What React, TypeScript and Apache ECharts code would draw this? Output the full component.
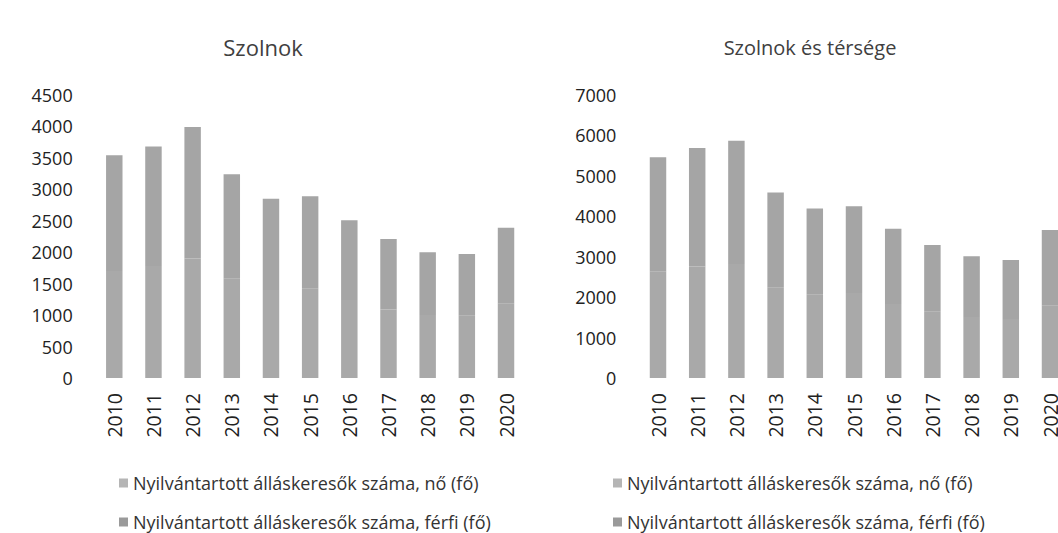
import React, { useEffect, useRef } from "react";
import * as echarts from "echarts";

const years = ["2010", "2011", "2012", "2013", "2014", "2015", "2016", "2017", "2018", "2019", "2020"];
const seriesNames = [
  "Nyilvántartott álláskeresők száma, nő (fő)",
  "Nyilvántartott álláskeresők száma, férfi (fő)",
];
const szolnokNo = [1700, 1780, 1900, 1580, 1400, 1420, 1240, 1090, 1000, 990, 1180];
const szolnokFerfi = [1840, 1900, 2090, 1660, 1450, 1470, 1270, 1120, 1000, 980, 1210];
const tersegNo = [2640, 2760, 2820, 2230, 2060, 2100, 1830, 1640, 1510, 1460, 1790];
const tersegFerfi = [2820, 2930, 3050, 2360, 2130, 2150, 1860, 1650, 1500, 1460, 1870];
const titles = ["Szolnok", "Szolnok és térsége"];

const FONT = "'Open Sans', 'Liberation Sans', sans-serif";
const colorNo = "#a9a9a9";
const colorFerfi = "#a5a5a5";

export default function App() {
  const ref = useRef<HTMLDivElement>(null);
  useEffect(() => {
    if (!ref.current) return;
    const chart = echarts.init(ref.current, undefined, { renderer: "svg" });
    const W = 1090;
    const axisLabel = { color: "#222", fontSize: 18, fontFamily: FONT };
    const xAxisBase = {
      type: "category",
      data: years,
      axisLine: { show: false },
      axisTick: { show: false },
      axisLabel: { ...axisLabel, fontSize: 19.5, rotate: 90, margin: 15 },
    };
    const yAxisBase = {
      type: "value",
      min: 0,
      axisLine: { show: false },
      axisTick: { show: false },
      splitLine: { show: false },
      axisLabel: { ...axisLabel, margin: 22, formatter: (v: number) => String(v) },
    };
    const bar = (name: string, data: number[], idx: number, color: string) => ({
      name,
      type: "bar",
      stack: "s" + idx,
      xAxisIndex: idx,
      yAxisIndex: idx,
      data,
      barWidth: "42%",
      itemStyle: { color },
    });
    const legendItem = (left: number, top: number, i: number) => ({
      left,
      top,
      itemWidth: 9,
      itemHeight: 9,
      itemGap: 6,
      icon: "rect",
      selectedMode: false,
      textStyle: { color: "#333", fontSize: 18, fontFamily: FONT },
      data: [{ name: seriesNames[i], itemStyle: { color: i === 0 ? "#b5b5b5" : "#9a9a9a" } }],
    });
    chart.setOption({
      animation: false,
      backgroundColor: "#fff",
      grid: [
        { left: 94.7, right: W - 525.6, top: 95, bottom: 533 - 378 },
        { left: 638.4, right: W - 1069.6, top: 95, bottom: 533 - 378 },
      ],
      xAxis: [
        { ...xAxisBase, gridIndex: 0 },
        { ...xAxisBase, gridIndex: 1 },
      ],
      yAxis: [
        { ...yAxisBase, gridIndex: 0, max: 4500, interval: 500 },
        { ...yAxisBase, gridIndex: 1, max: 7000, interval: 1000 },
      ],
      legend: [
        legendItem(114, 469, 0),
        legendItem(114, 508, 1),
        legendItem(608, 469, 0),
        legendItem(608, 508, 1),
      ],
      graphic: [
        {
          type: "text",
          x: 263,
          y: 47,
          style: { text: titles[0], align: "center", verticalAlign: "middle", fill: "#404040", fontSize: 22, fontFamily: FONT },
        },
        {
          type: "text",
          x: 810,
          y: 47,
          style: { text: titles[1], align: "center", verticalAlign: "middle", fill: "#404040", fontSize: 20, fontFamily: FONT },
        },
      ],
      series: [
        bar(seriesNames[0], szolnokNo, 0, colorNo),
        bar(seriesNames[1], szolnokFerfi, 0, colorFerfi),
        bar(seriesNames[0], tersegNo, 1, colorNo),
        bar(seriesNames[1], tersegFerfi, 1, colorFerfi),
      ],
    });
    return () => chart.dispose();
  }, []);
  return (
    <div style={{ position: "absolute", left: 0, top: 0, width: 1058, height: 533, overflow: "hidden", background: "#fff" }}>
      <div ref={ref} style={{ width: 1090, height: 533 }} />
    </div>
  );
}
